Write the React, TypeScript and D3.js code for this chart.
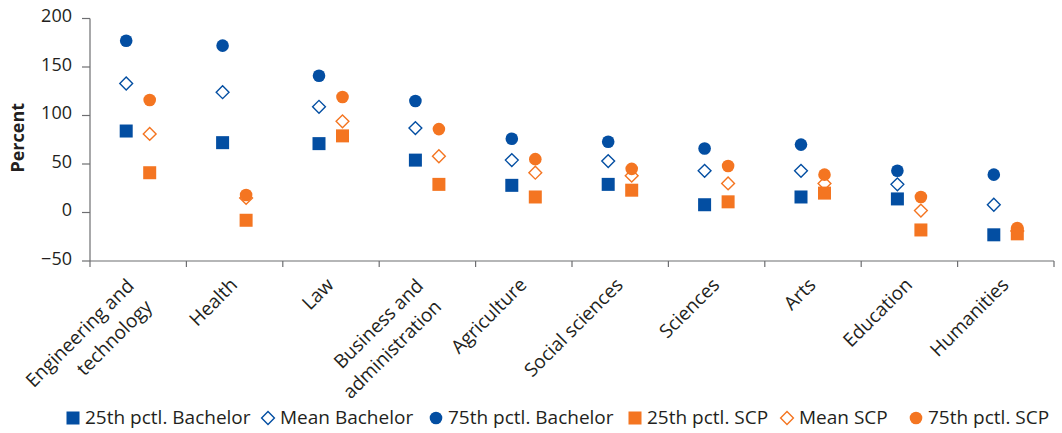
import React from "react";
import * as d3 from "d3";

const categories: string[][] = [
  ["Engineering and", "technology"],
  ["Health"],
  ["Law"],
  ["Business and", "administration"],
  ["Agriculture"],
  ["Social sciences"],
  ["Sciences"],
  ["Arts"],
  ["Education"],
  ["Humanities"],
];

const bach25 = [84, 72, 71, 54, 28, 29, 8, 16, 14, -23];
const bachMean = [133, 124, 109, 87, 54, 53, 43, 43, 29, 8];
const bach75 = [177, 172, 141, 115, 76, 73, 66, 70, 43, 39];
const scp25 = [41, -8, 79, 29, 16, 23, 11, 20, -18, -22];
const scpMean = [81, 15, 94, 58, 41, 38, 30, 30, 2, -19];
const scp75 = [116, 18, 119, 86, 55, 45, 48, 39, 16, -16];

const yTicks = [-50, 0, 50, 100, 150, 200];

const BLUE = "#034ea2";
const ORANGE = "#f47521";
const FONT = "'Open Sans', sans-serif";
const FS = 19;
const TICK_FS = 18;

type Shape = "square" | "diamond" | "circle";

const legendItems: { label: string; shape: Shape; color: string }[] = [
  { label: "25th pctl. Bachelor", shape: "square", color: BLUE },
  { label: "Mean Bachelor", shape: "diamond", color: BLUE },
  { label: "75th pctl. Bachelor", shape: "circle", color: BLUE },
  { label: "25th pctl. SCP", shape: "square", color: ORANGE },
  { label: "Mean SCP", shape: "diamond", color: ORANGE },
  { label: "75th pctl. SCP", shape: "circle", color: ORANGE },
];
// left edge of each legend marker
const legendX = [67, 262, 430, 629, 781, 910];

function Marker({ shape, color, x, y }: { shape: Shape; color: string; x: number; y: number }) {
  if (shape === "square") return <rect x={x - 6.5} y={y - 6.5} width={13} height={13} fill={color} />;
  if (shape === "circle") return <circle cx={x} cy={y} r={6.3} fill={color} />;
  const s = 6.4;
  return (
    <path
      d={`M${x},${y - s}L${x + s},${y}L${x},${y + s}L${x - s},${y}Z`}
      fill="white"
      stroke={color}
      strokeWidth={1.4}
    />
  );
}

export default function App() {
  const W = 1062, H = 433;
  const left = 90, right = 1054, top = 18.5, bottom = 261;
  const x = d3.scaleBand<number>().domain(d3.range(categories.length)).range([left, right]);
  const y = d3.scaleLinear().domain([-50, 200]).range([bottom, top]);
  const bw = x.bandwidth();
  const cx = (i: number) => (x(i) as number) + bw / 2;
  const offB = -12, offS = 11.5;

  const series: { vals: number[]; shape: Shape; color: string; off: number }[] = [
    { vals: bachMean, shape: "diamond", color: BLUE, off: offB },
    { vals: bach75, shape: "circle", color: BLUE, off: offB },
    { vals: bach25, shape: "square", color: BLUE, off: offB },
    { vals: scpMean, shape: "diamond", color: ORANGE, off: offS },
    { vals: scp75, shape: "circle", color: ORANGE, off: offS },
    { vals: scp25, shape: "square", color: ORANGE, off: offS },
  ];

  const markerW = 12, gapMT = 6;
  const lyBase = 423.5;

  const xTicks = d3.range(categories.length + 1).map((i) => left + i * bw);

  return (
    <svg width={W} height={H} style={{ position: "absolute", left: 0, top: 0 }} fontFamily={FONT}>
      <rect width={W} height={H} fill="white" />
      {/* y axis */}
      <line x1={left} x2={left} y1={top} y2={bottom} stroke="#6d6e71" strokeWidth={1.2} />
      {yTicks.map((t) => (
        <g key={t}>
          <line x1={left - 8} x2={left} y1={y(t)} y2={y(t)} stroke="#6d6e71" strokeWidth={1.2} />
          <text x={left - 18} y={y(t)} dy="0.22em" textAnchor="end" fontSize={TICK_FS} fill="#231f20">
            {t < 0 ? "\u2212" + Math.abs(t) : t}
          </text>
        </g>
      ))}
      <text
        transform={`translate(24,${(top + bottom) / 2 - 2}) rotate(-90)`}
        textAnchor="middle"
        fontSize={18}
        fontWeight="bold"
        fill="#231f20"
      >
        Percent
      </text>
      {/* x axis */}
      <line x1={left} x2={right} y1={bottom} y2={bottom} stroke="#6d6e71" strokeWidth={1.2} />
      {xTicks.map((t, i) => (
        <line key={i} x1={t} x2={t} y1={bottom} y2={bottom + 6} stroke="#6d6e71" strokeWidth={1.2} />
      ))}
      {categories.map((lines, i) => {
        const multi = lines.length > 1;
        const ax = multi ? cx(i) - 3 : cx(i) + 4;
        const ay = multi ? bottom + 26 : bottom + 25;
        return (
          <text
            key={i}
            transform={`translate(${ax},${ay}) rotate(-45)`}
            textAnchor="end"
            fontSize={FS}
            fill="#231f20"
          >
            {lines.map((ln, j) => (
              <tspan key={j} x={j === 0 ? 0 : -2} dy={j === 0 ? 0 : "1.45em"}>
                {ln}
              </tspan>
            ))}
          </text>
        );
      })}
      {/* markers */}
      {series.map((s, si) =>
        s.vals.map((v, i) => (
          <Marker key={`${si}-${i}`} shape={s.shape} color={s.color} x={cx(i) + s.off} y={y(v)} />
        ))
      )}
      {/* legend */}
      {legendItems.map((d, i) => (
        <g key={i}>
          <Marker shape={d.shape} color={d.color} x={legendX[i] + markerW / 2} y={lyBase - 5.5} />
          <text x={legendX[i] + markerW + gapMT} y={lyBase} fontSize={FS} fill="#231f20">
            {d.label}
          </text>
        </g>
      ))}
    </svg>
  );
}
